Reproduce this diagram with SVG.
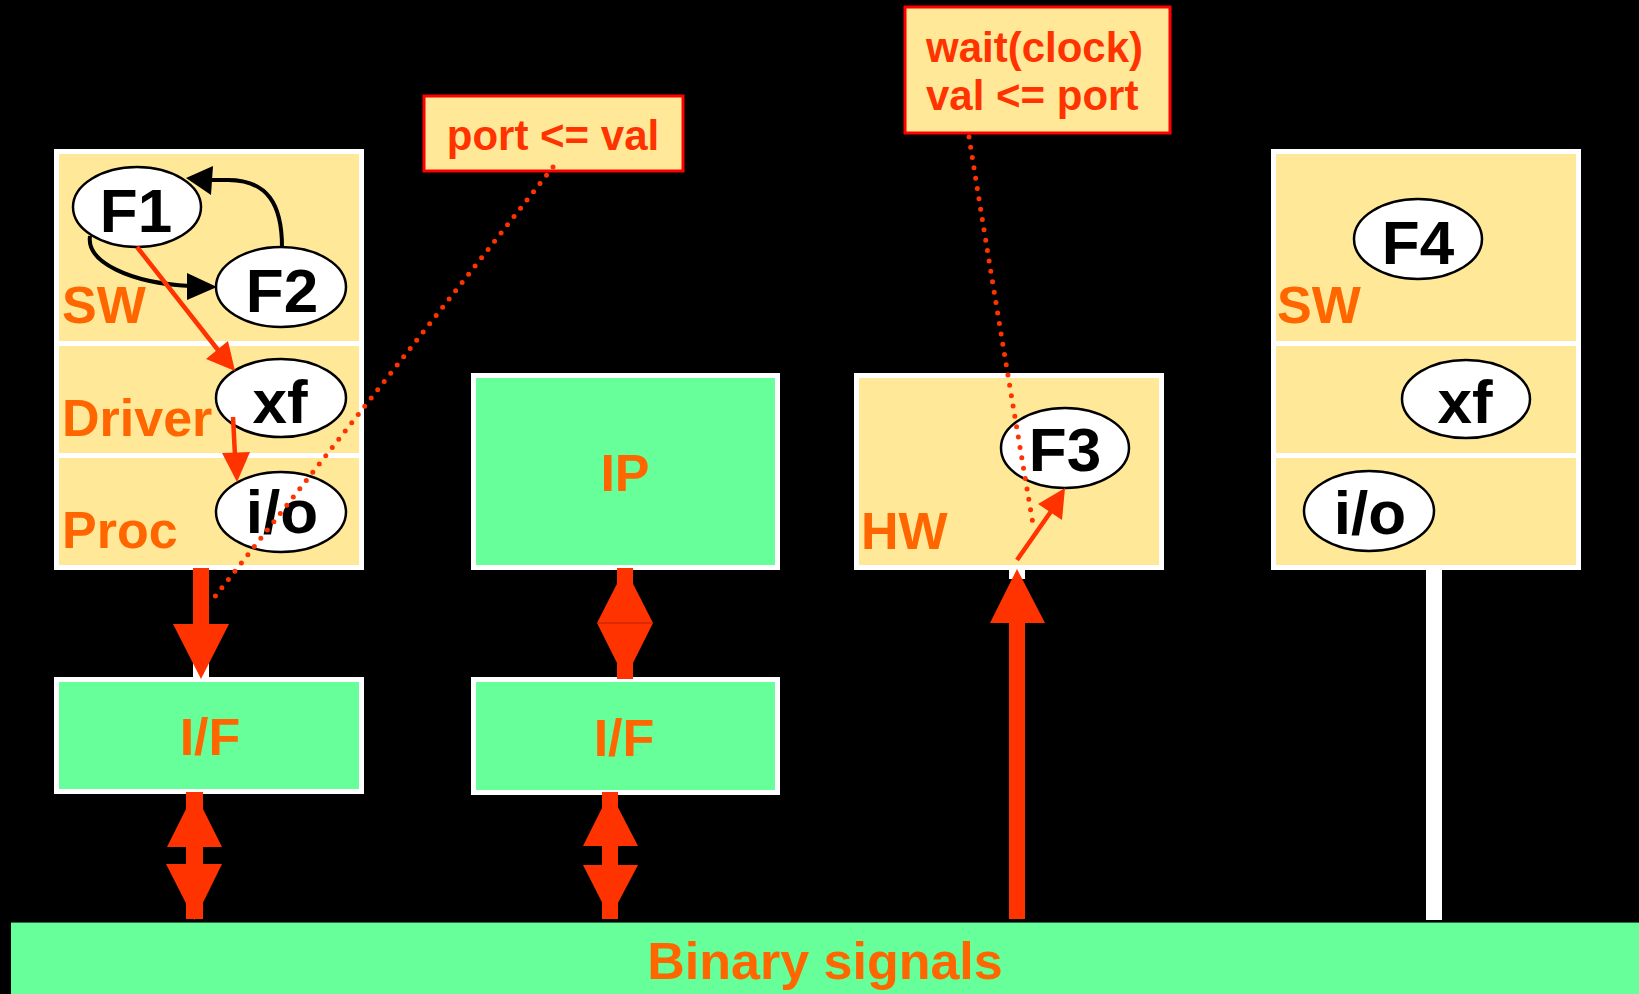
<svg xmlns="http://www.w3.org/2000/svg" width="1639" height="994" viewBox="0 0 1639 994">
  <style>
    .frame { fill: #ffffff; }
    .sec { fill: #FFE999; }
    .green { fill: #66FF99; }
    .lbl { font-family: "Liberation Sans", Arial, sans-serif; font-weight: bold; font-size: 52px; fill: #FF6600; }
    .fn { fill: #ffffff; stroke: #000000; stroke-width: 2.5; }
    .fntxt { font-family: "Liberation Sans", Arial, sans-serif; font-weight: bold; font-size: 62px; fill: #000000; text-anchor: middle; }
    .note { fill: #FFE999; stroke: #FF0000; stroke-width: 3; }
    .notetxt { font-family: "Liberation Sans", Arial, sans-serif; font-weight: bold; font-size: 42px; fill: #FF3300; }
    .redline { stroke: #FF3300; stroke-width: 4.5; fill: none; }
    .redfill { fill: #FF3300; }
    .blackline { stroke: #000000; stroke-width: 4; fill: none; }
    .dots { stroke: #FF3300; stroke-width: 5; stroke-linecap: round; stroke-dasharray: 0 10.5; fill: none; }
  </style>

  <rect x="0" y="0" width="1639" height="994" fill="#000000"/>

  <!-- Left software stack: SW / Driver / Proc -->
  <g id="stack-left">
    <rect class="frame" x="54" y="149" width="310" height="421"/>
    <rect class="sec" x="59" y="154" width="300" height="187"/>
    <rect class="sec" x="59" y="346" width="300" height="107"/>
    <rect class="sec" x="59" y="458" width="300" height="107"/>
    <text class="lbl" x="62" y="323">SW</text>
    <text class="lbl" x="62" y="436">Driver</text>
    <text class="lbl" x="62" y="548">Proc</text>
  </g>
  <g id="f1"><ellipse class="fn" cx="137" cy="207" rx="64" ry="40"/><text class="fntxt" x="136" y="232">F1</text></g>
  <g id="f2"><ellipse class="fn" cx="281" cy="287" rx="65" ry="40"/><text class="fntxt" x="282" y="312">F2</text></g>
  <g id="xf-left"><ellipse class="fn" cx="281" cy="398" rx="65" ry="39"/><text class="fntxt" x="280" y="423">xf</text></g>
  <g id="io-left"><ellipse class="fn" cx="281" cy="512" rx="65" ry="40"/><text class="fntxt" x="282" y="533">i/o</text></g>

  <!-- Left interface -->
  <g id="if-left">
    <rect class="frame" x="54" y="677" width="310" height="117"/>
    <rect class="green" x="59" y="682" width="300" height="107"/>
    <text class="lbl" x="210" y="755" text-anchor="middle">I/F</text>
  </g>

  <!-- IP block and its interface -->
  <g id="ip">
    <rect class="frame" x="471" y="373" width="309" height="197"/>
    <rect class="green" x="476" y="378" width="299" height="187"/>
    <text class="lbl" x="625" y="491" text-anchor="middle">IP</text>
  </g>
  <g id="if-ip">
    <rect class="frame" x="471" y="677" width="309" height="118"/>
    <rect class="green" x="476" y="682" width="299" height="108"/>
    <text class="lbl" x="624" y="756" text-anchor="middle">I/F</text>
  </g>

  <!-- Hardware block -->
  <g id="hw">
    <rect class="frame" x="854" y="373" width="310" height="197"/>
    <rect class="sec" x="859" y="378" width="300" height="187"/>
    <text class="lbl" x="861" y="549">HW</text>
  </g>
  <g id="f3"><ellipse class="fn" cx="1065" cy="448" rx="64" ry="40"/><text class="fntxt" x="1065" y="471">F3</text></g>

  <!-- Right software stack -->
  <g id="stack-right">
    <rect class="frame" x="1271" y="149" width="310" height="421"/>
    <rect class="sec" x="1276" y="154" width="300" height="187"/>
    <rect class="sec" x="1276" y="346" width="300" height="107"/>
    <rect class="sec" x="1276" y="458" width="300" height="107"/>
    <text class="lbl" x="1277" y="323">SW</text>
  </g>
  <g id="f4"><ellipse class="fn" cx="1418" cy="239" rx="64" ry="40"/><text class="fntxt" x="1418" y="264">F4</text></g>
  <g id="xf-right"><ellipse class="fn" cx="1466" cy="399" rx="64" ry="39"/><text class="fntxt" x="1465" y="423">xf</text></g>
  <g id="io-right"><ellipse class="fn" cx="1369" cy="511" rx="65" ry="40"/><text class="fntxt" x="1370" y="534">i/o</text></g>

  <!-- Signal bus -->
  <g id="bus">
    <rect class="green" x="11" y="922" width="1628" height="72"/>
    <line x1="11" y1="922.5" x2="1639" y2="922.5" stroke="#2f6b44" stroke-width="1"/>
    <text class="lbl" x="825" y="979" text-anchor="middle" font-size="53">Binary signals</text>
  </g>

  <!-- Annotations -->
  <g id="note-write">
    <rect class="note" x="424" y="96" width="259" height="75"/>
    <text class="notetxt" x="553" y="150" text-anchor="middle">port &lt;= val</text>
  </g>
  <g id="note-read">
    <rect class="note" x="905" y="7" width="265" height="126"/>
    <text class="notetxt" x="926" y="62">wait(clock)</text>
    <text class="notetxt" x="926" y="110">val &lt;= port</text>
  </g>

  <!-- Connectors -->
  <g id="connectors">
    <!-- F2 -> F1 and F1 -> F2 -->
    <path class="blackline" d="M282,247 C282,205 268,180 228,180 L210,180"/>
    <polygon points="186,178 213,166 211,195" fill="#000000"/>
    <path class="blackline" d="M90,236 C86,262 130,283 190,286"/>
    <polygon points="217,287 187,273 187,300" fill="#000000"/>

    <!-- F1 -> xf -->
    <line class="redline" x1="137" y1="247" x2="218" y2="350"/>
    <polygon class="redfill" points="235,371 206,359 228,341"/>
    <!-- xf -> i/o -->
    <line class="redline" x1="233" y1="417" x2="235" y2="456"/>
    <polygon class="redfill" points="237,482 222,453 250,452"/>

    <!-- Proc -> I/F -->
    <rect class="frame" x="193" y="660" width="16" height="17"/>
    <rect class="redfill" x="193" y="568" width="16" height="57"/>
    <polygon class="redfill" points="173,624 229,624 201,679"/>

    <!-- I/F <-> bus (left) -->
    <rect class="redfill" x="186" y="792" width="17" height="127"/>
    <polygon class="redfill" points="194.5,792 167,847 222,847"/>
    <polygon class="redfill" points="166,864 222,864 194.5,920"/>

    <!-- IP <-> I/F -->
    <rect class="redfill" x="617" y="568" width="16" height="111"/>
    <polygon class="redfill" points="625,568 597,623 653,623"/>
    <polygon class="redfill" points="597,623 653,623 625,679"/>
    <line x1="597" y1="623" x2="653" y2="623" stroke="#b32400" stroke-width="1"/>

    <!-- I/F <-> bus (IP) -->
    <rect class="redfill" x="602" y="792" width="16" height="127"/>
    <polygon class="redfill" points="610,792 583,846 638,846"/>
    <polygon class="redfill" points="583,865 638,865 610,918"/>

    <!-- bus -> HW -->
    <rect class="frame" x="1009" y="569" width="16" height="10"/>
    <rect class="redfill" x="1009" y="622" width="16" height="297"/>
    <polygon class="redfill" points="1017,569 990,623 1045,623"/>
    <!-- into F3 -->
    <line class="redline" x1="1017" y1="560" x2="1052" y2="510"/>
    <polygon class="redfill" points="1065,488 1038,504 1062,520"/>

    <!-- right stack -> bus -->
    <rect class="frame" x="1426" y="570" width="16" height="350"/>

    <!-- annotation leaders -->
    <line class="dots" x1="553" y1="167" x2="210" y2="603"/>
    <path class="dots" d="M969,137 Q1000,330 1034,530"/>
  </g>
</svg>
